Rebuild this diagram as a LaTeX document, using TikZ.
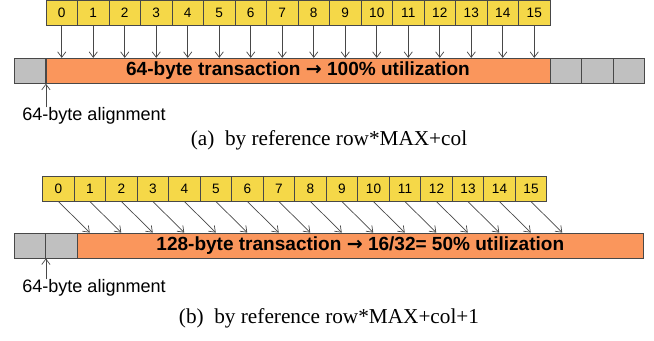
\documentclass[tikz,border=0pt]{standalone}
\usepackage{fontspec}
\setmainfont{Liberation Serif}
\setsansfont{Liberation Sans}
\newfontfamily\arrowfont{DejaVu Sans}
\usetikzlibrary{arrows.meta}
\definecolor{cellyellow}{RGB}{245,216,72}
\definecolor{txorange}{RGB}{250,150,92}
\definecolor{padgray}{RGB}{192,192,192}
\definecolor{edgegray}{RGB}{72,72,72}
\newcommand{\tofrac}{{\arrowfont\bfseries →}}

\begin{document}
\begin{tikzpicture}[x=0.72pt,y=-0.72pt]
\tikzset{thread/.style={draw=edgegray, fill=cellyellow, line width=0.6pt, minimum width=22.68pt, minimum height=18pt, inner sep=0pt, font=\sffamily\fontsize{9.8}{10}\selectfont}}
\tikzset{pad/.style={draw=edgegray, fill=padgray, line width=0.6pt, minimum width=22.68pt, minimum height=18pt, inner sep=0pt}}
\tikzset{txn/.style={draw=edgegray, fill=txorange, line width=0.6pt, minimum height=18pt, inner sep=0pt, font=\sffamily\bfseries\fontsize{13.7}{14}\selectfont}}
\tikzset{ld/.style={-{Straight Barb[length=4pt,width=6pt]}, draw=edgegray, line width=0.5pt}}
\tikzset{note/.style={anchor=west, inner sep=0pt, font=\sffamily\fontsize{13}{15}\selectfont}}
\tikzset{capt/.style={inner sep=0pt, font=\fontsize{15.3}{17}\selectfont}}
\useasboundingbox (0,0) rectangle (654,341);

% (a) row*MAX+col
\foreach \i in {0,...,15}
  \node[thread] (ya\i) at (61.75+31.5*\i,13) {\i};
\node[pad] (pa0) at (29.75,70.8) {};
\node[txn, minimum width=362.9pt] (ta) at (298,70.8) {64-byte transaction \tofrac{} 100\% utilization};
\foreach \j in {1,2,3}
  \node[pad] (pa\j) at (534.25+31.5*\j,70.8) {};
\foreach \i in {0,...,15}
  \draw[ld] (ya\i.south) -- (ya\i.south |- ta.north);
\node[note] (ala) at (22,116) {64-byte alignment};
\draw[ld] (pa0.south east |- ala.north) -- (pa0.south east);
\node[capt] (capa) at (329,140) {(a)\enspace by reference row*MAX+col};

% (b) row*MAX+col+1
\foreach \i in {0,...,15}
  \node[thread] (yb\i) at (58.5+31.5*\i,188.7) {\i};
\node[pad] (pb0) at (29.75,245.5) {};
\node[pad] (pb1) at (61.25,245.5) {};
\node[txn, minimum width=407.5pt] (tb) at (360.3,245.5) {128-byte transaction \tofrac{} 16/32= 50\% utilization};
\foreach \i in {0,...,15}
  \draw[ld] (yb\i.south) -- ([xshift=22.5pt]yb\i.south |- tb.north);
\node[note] (alb) at (22,288) {64-byte alignment};
\draw[ld] (pb0.south east |- alb.north) -- (pb0.south east);
\node[capt] (capb) at (329,318) {(b)\enspace by reference row*MAX+col+1};
\end{tikzpicture}
\end{document}
